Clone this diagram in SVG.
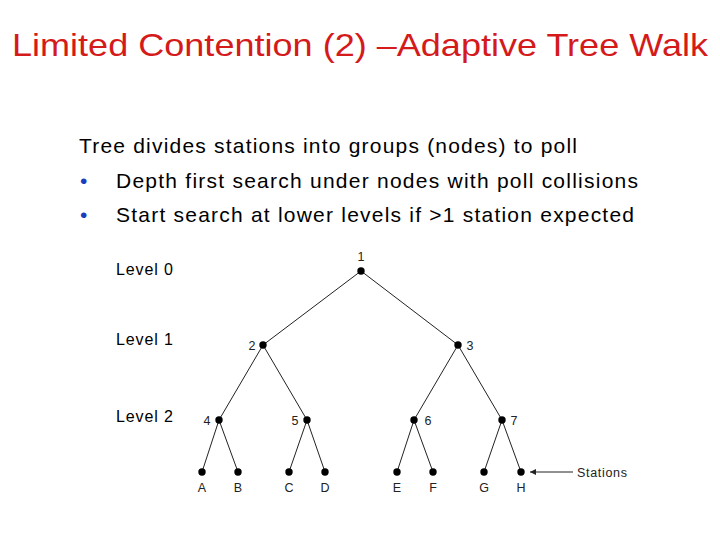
<svg xmlns="http://www.w3.org/2000/svg" width="720" height="540" viewBox="0 0 720 540">
<defs>
<style>
.t{font-family:"Liberation Sans",Arial,sans-serif;fill:#000}
.title{font-size:32px;fill:#d41a1a}
.body{font-size:21px}
.bul{font-size:21px;fill:#1c3cc0}
.lvl{font-size:16px}
.lab{font-size:12.5px;fill:#222}
.e{stroke:#222;stroke-width:1}
.d{fill:#000}
</style>
<marker id="ah" viewBox="0 0 10 10" refX="10" refY="5" markerWidth="8" markerHeight="6" orient="auto-start-reverse" markerUnits="userSpaceOnUse"><path d="M0,0 L10,5 L0,10 z" fill="#222"/></marker>
</defs>
<rect width="720" height="540" fill="#fff"/>
<text class="t title" x="12" y="56" textLength="696" lengthAdjust="spacingAndGlyphs">Limited Contention (2) –Adaptive Tree Walk</text>
<text class="t body" x="79" y="153" textLength="498" lengthAdjust="spacing">Tree divides stations into groups (nodes) to poll</text>
<text class="t bul" x="80" y="188">•</text>
<text class="t body" x="116" y="188" textLength="522" lengthAdjust="spacing">Depth first search under nodes with poll collisions</text>
<text class="t bul" x="80" y="222">•</text>
<text class="t body" x="116" y="222" textLength="518" lengthAdjust="spacing">Start search at lower levels if &gt;1 station expected</text>
<text class="t lvl" x="116" y="275" textLength="57" lengthAdjust="spacing">Level 0</text>
<text class="t lvl" x="116" y="345" textLength="57" lengthAdjust="spacing">Level 1</text>
<text class="t lvl" x="116" y="422" textLength="57" lengthAdjust="spacing">Level 2</text>
<g id="connectors">
<line class="e" x1="361" y1="271" x2="263" y2="345"/>
<line class="e" x1="361" y1="271" x2="458" y2="345"/>
<line class="e" x1="263" y1="345" x2="219" y2="420"/>
<line class="e" x1="263" y1="345" x2="307" y2="420"/>
<line class="e" x1="458" y1="345" x2="414" y2="420"/>
<line class="e" x1="458" y1="345" x2="502" y2="420"/>
<line class="e" x1="219" y1="420" x2="202" y2="472"/>
<line class="e" x1="219" y1="420" x2="238" y2="472"/>
<line class="e" x1="307" y1="420" x2="289" y2="472"/>
<line class="e" x1="307" y1="420" x2="325" y2="472"/>
<line class="e" x1="414" y1="420" x2="397" y2="472"/>
<line class="e" x1="414" y1="420" x2="433" y2="472"/>
<line class="e" x1="502" y1="420" x2="484" y2="472"/>
<line class="e" x1="502" y1="420" x2="521" y2="472"/>
<line class="e" x1="573" y1="472" x2="530" y2="472" marker-end="url(#ah)"/>
</g>
<g id="n1"><circle class="d" cx="361" cy="271" r="3.7"/><text class="t lab" x="361" y="261" text-anchor="middle">1</text></g>
<g id="n2"><circle class="d" cx="263" cy="345" r="3.7"/><text class="t lab" x="252" y="350" text-anchor="middle">2</text></g>
<g id="n3"><circle class="d" cx="458" cy="345" r="3.7"/><text class="t lab" x="470" y="350" text-anchor="middle">3</text></g>
<g id="n4"><circle class="d" cx="219" cy="420" r="3.7"/><text class="t lab" x="207" y="425" text-anchor="middle">4</text></g>
<g id="n5"><circle class="d" cx="307" cy="420" r="3.7"/><text class="t lab" x="295" y="425" text-anchor="middle">5</text></g>
<g id="n6"><circle class="d" cx="414" cy="420" r="3.7"/><text class="t lab" x="428" y="425" text-anchor="middle">6</text></g>
<g id="n7"><circle class="d" cx="502" cy="420" r="3.7"/><text class="t lab" x="514" y="425" text-anchor="middle">7</text></g>
<g id="nA"><circle class="d" cx="202" cy="472" r="3.7"/><text class="t lab" x="202" y="492" text-anchor="middle">A</text></g>
<g id="nB"><circle class="d" cx="238" cy="472" r="3.7"/><text class="t lab" x="238" y="492" text-anchor="middle">B</text></g>
<g id="nC"><circle class="d" cx="289" cy="472" r="3.7"/><text class="t lab" x="289" y="492" text-anchor="middle">C</text></g>
<g id="nD"><circle class="d" cx="325" cy="472" r="3.7"/><text class="t lab" x="325" y="492" text-anchor="middle">D</text></g>
<g id="nE"><circle class="d" cx="397" cy="472" r="3.7"/><text class="t lab" x="397" y="492" text-anchor="middle">E</text></g>
<g id="nF"><circle class="d" cx="433" cy="472" r="3.7"/><text class="t lab" x="433" y="492" text-anchor="middle">F</text></g>
<g id="nG"><circle class="d" cx="484" cy="472" r="3.7"/><text class="t lab" x="484" y="492" text-anchor="middle">G</text></g>
<g id="nH"><circle class="d" cx="521" cy="472" r="3.7"/><text class="t lab" x="521" y="492" text-anchor="middle">H</text></g>
<text class="t lab" x="577" y="477" textLength="50" lengthAdjust="spacing">Stations</text>
</svg>
